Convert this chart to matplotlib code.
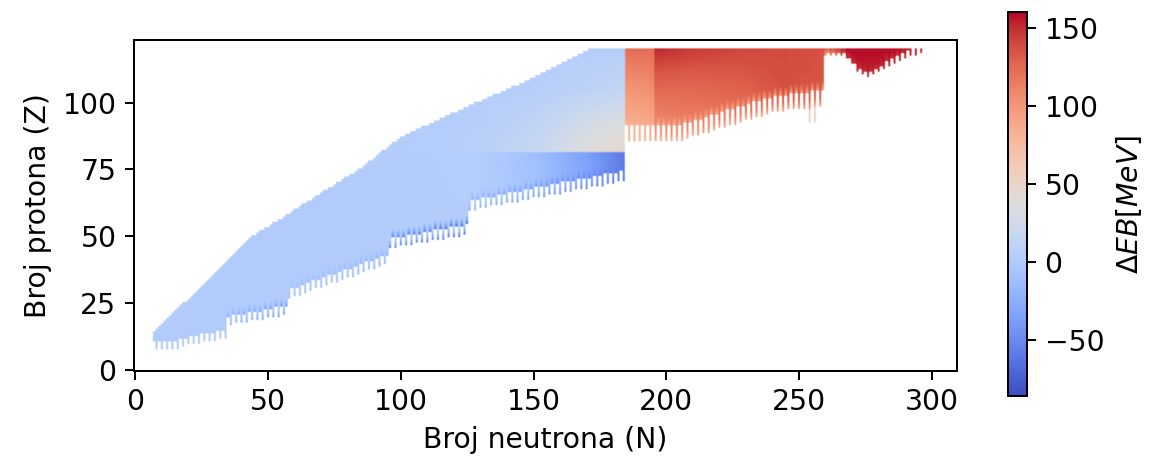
import numpy as np
import matplotlib
matplotlib.use("Agg")
import matplotlib.pyplot as plt

plt.rcParams["font.size"] = 11.3

# ---------------- data ----------------
# grid of nuclei: N = 0..309, Z = 0..123 (cells outside the chart region are empty)
grid_N_max = 309
grid_Z_max = 123
Z_top = 120

# proton-rich (upper) edge of the chart: highest Z present for a given N
upper_N = [7, 14, 23, 28, 43, 59, 86, 100, 129, 150, 171]
upper_Z = [14, 21, 29, 34, 49, 59, 76, 87, 100, 109, 120]

# neutron-rich (lower) edge: lowest Z present for a given N
lower_N = [7, 16, 17, 34, 35, 57, 58, 95, 96, 125, 126, 184, 185, 205, 241, 259, 260, 267, 268, 273, 277, 290, 296]
lower_Z = [8, 8, 9, 12, 17, 21, 27, 40, 46, 51, 60, 71, 86, 86, 97, 99, 118, 118, 117, 111, 110, 117, 119]

# odd-N columns stop higher (white stripes along the lower edge)
stripe_N = [7, 184, 185, 259, 260, 296]
stripe_depth = [3, 4, 6, 6, 1, 3]

# Delta EB [MeV] in the blue part (N <= 184), anchor table
blue_N = [0, 60, 100, 130, 150, 170, 184]
blue_Z = [0, 81, 82, 92, 105, 120]
blue_vals = [
    [2, 2, 2, 2, 0, -5, -10],
    [2, 2, 3, 4, -10, -35, -60],
    [2, 2, 3, 6, 18, 38, 48],
    [2, 2, 3, 5, 12, 28, 36],
    [2, 2, 2, 3, 5, 10, 15],
    [2, 2, 2, 2, 3, 4, 5],
]

# Delta EB [MeV] in the red part (N >= 185), anchor table
red_N = [185, 195, 196, 210, 230, 245, 259, 268, 296]
red_Z = [85, 95, 105, 112, 120]
red_vals = [
    [75, 80, 100, 105, 110, 115, 110, 150, 150],
    [88, 92, 112, 115, 118, 122, 120, 150, 150],
    [100, 104, 125, 125, 128, 136, 132, 152, 152],
    [110, 114, 135, 133, 134, 138, 135, 155, 155],
    [122, 122, 152, 145, 140, 138, 136, 158, 158],
]

# values of the lowest cells along the neutron-rich edge
edge_N = [7, 34, 35, 57, 58, 95, 96, 125, 126, 184, 185, 259, 268, 296]
edge_v = [0, 0, -20, -35, -8, -20, -50, -60, -20, -60, 85, 95, 150, 150]
edge_weights = [1.0, 0.6, 0.3]

# gray tails hanging under the red block
tail_N = [254, 256]
tail_Zlo = [93, 93]
tail_v = [50, 50]

v_min, v_max = -86, 160
x_ticks = [0, 50, 100, 150, 200, 250, 300]
y_ticks = [0, 25, 50, 75, 100]

# ---------------- build the map ----------------
def table_value(table, tN, tZ, n, z):
    rows = [np.interp(n, tN, r) for r in table]
    return np.interp(z, tZ, rows)

cols = np.arange(grid_N_max + 1)
V = np.full((grid_Z_max + 1, grid_N_max + 1), np.nan)
zhi = np.minimum(np.interp(cols, upper_N, upper_Z), Z_top)
zlo = np.interp(cols, lower_N, lower_Z)
depth = np.interp(cols, stripe_N, stripe_depth)
zlo = np.where(cols % 2 == 1, zlo + depth, zlo)
ev = np.interp(cols, edge_N, edge_v)

for n in cols:
    if n < lower_N[0] or n > lower_N[-1]:
        continue
    z0 = int(round(zlo[n]))
    z1 = int(round(zhi[n]))
    for z in range(z0, z1 + 1):
        if n <= 184:
            v = table_value(blue_vals, blue_N, blue_Z, n, z)
        else:
            v = table_value(red_vals, red_N, red_Z, n, z)
        k = z - z0
        if k < len(edge_weights):
            w = edge_weights[k]
            v = w * ev[n] + (1 - w) * v
        V[z, n] = v

for n, zl, tv in zip(tail_N, tail_Zlo, tail_v):
    filled = np.where(~np.isnan(V[:, n]))[0]
    top = filled.min() if filled.size else zl
    for z in range(zl, top):
        V[z, n] = tv

# ---------------- draw ----------------
fig = plt.figure(figsize=(1155 / 180, 466 / 180), dpi=180)
ax = fig.add_axes([134 / 1155, 95 / 466, 823 / 1155, 331 / 466])
cax = fig.add_axes([1008 / 1155, 70 / 466, 19 / 1155, 384 / 466])

cmap = plt.get_cmap("coolwarm").with_extremes(bad=(1, 1, 1, 0))
im = ax.imshow(V, origin="lower", cmap=cmap, vmin=v_min, vmax=v_max,
               extent=(-0.5, grid_N_max + 0.5, -0.5, grid_Z_max + 0.5), aspect="auto",
               interpolation_stage="rgba")
ax.set_xticks(x_ticks)
ax.set_yticks(y_ticks)
ax.set_xlabel("Broj neutrona (N)")
ax.set_ylabel("Broj protona (Z)")

cb = fig.colorbar(im, cax=cax)
cb.set_label(r"$\Delta EB [MeV]$")

fig.savefig("out.png", dpi=180)
